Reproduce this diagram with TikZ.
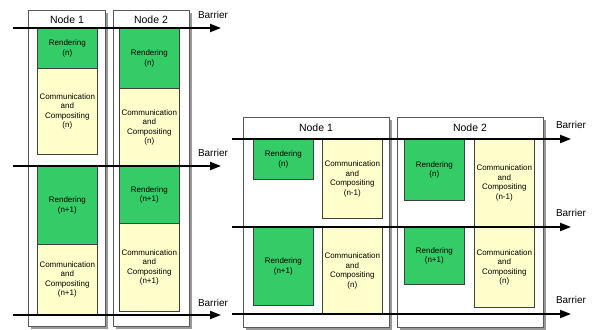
\documentclass[tikz,border=0pt]{standalone}
\usepackage{fontspec}
\setmainfont{Liberation Sans}
\usetikzlibrary{arrows.meta,positioning,shadows}
\definecolor{rendgreen}{RGB}{51,204,102}
\definecolor{compyellow}{RGB}{255,255,204}

\begin{document}
\begin{tikzpicture}[
  x=1pt, y=-1pt,
  nodebox/.style={draw=black!65, line width=0.8pt, fill=white, anchor=north west, inner sep=0pt,
    drop shadow={shadow xshift=2.5pt, shadow yshift=-2.5pt, fill=black!40, opacity=1}},
  title/.style={font=\fontsize{10.5}{12}\selectfont, anchor=center},
  task/.style={draw=black!75, line width=0.6pt, anchor=north west, inner sep=0pt, minimum width=60pt,
    align=center, font=\fontsize{8}{9.5}\selectfont,
    drop shadow={shadow xshift=0.8pt, shadow yshift=-0.8pt, fill=black!50, opacity=1}},
  rend/.style={task, fill=rendgreen},
  comp/.style={task, fill=compyellow},
  barrier/.style={line width=2pt, -{Triangle[length=11pt,width=8pt]}},
  blabel/.style={font=\fontsize{10}{12}\selectfont}
]
\useasboundingbox (0,0) rectangle (593,329);

% serial pipeline
\node[nodebox, minimum width=77pt, minimum height=316pt] (ln1) at (28,10) {};
\node[nodebox, minimum width=76pt, minimum height=316pt] (ln2) at (113,10) {};
\node[title] (ln1t) at (67,20) {Node 1};
\node[title] (ln2t) at (151,20) {Node 2};

\node[rend, minimum height=40pt] (lr1a) at (37,28) {Rendering\\(n)};
\node[comp, minimum height=86pt] (lc1a) at (37,68) {Communication\\and\\Compositing\\(n)};
\node[rend, minimum height=78pt] (lr1b) at (37,166) {Rendering\\(n+1)};
\node[comp, minimum height=70pt] (lc1b) at (37,244) {Communication\\and\\Compositing\\(n+1)};

\node[rend, minimum height=60pt] (lr2a) at (119,28) {Rendering\\(n)};
\node[comp, minimum height=78pt] (lc2a) at (119,88) {Communication\\and\\Compositing\\(n)};
\node[rend, minimum height=57pt] (lr2b) at (119,166) {Rendering\\(n+1)};
\node[comp, minimum height=88pt] (lc2b) at (119,223) {Communication\\and\\Compositing\\(n+1)};

\coordinate (lb1s) at (13,28);   \coordinate (lb1e) at (221,28);
\coordinate (lb2s) at (13,166);  \coordinate (lb2e) at (221,166);
\coordinate (lb3s) at (13,315);  \coordinate (lb3e) at (221,315);
\draw[barrier] (lb1s) -- (lb1e);
\draw[barrier] (lb2s) -- (lb2e);
\draw[barrier] (lb3s) -- (lb3e);
\node[blabel] (lbl1) at (213,15) {Barrier};
\node[blabel] (lbl2) at (213,153) {Barrier};
\node[blabel] (lbl3) at (213,303) {Barrier};

% overlapped pipeline
\node[nodebox, minimum width=146pt, minimum height=210pt] (rn1) at (243,117) {};
\node[nodebox, minimum width=146pt, minimum height=210pt] (rn2) at (397,117) {};
\node[title] (rn1t) at (316,128) {Node 1};
\node[title] (rn2t) at (470,128) {Node 2};

\node[rend, minimum height=40pt] (rr1a) at (253,139) {Rendering\\(n)};
\node[comp, minimum height=79pt] (rc1a) at (322,139) {Communication\\and\\Compositing\\(n-1)};
\node[rend, minimum height=78pt] (rr1b) at (253,227) {Rendering\\(n+1)};
\node[comp, minimum height=87pt] (rc1b) at (322,227) {Communication\\and\\Compositing\\(n)};

\node[rend, minimum height=61pt] (rr2a) at (404,139) {Rendering\\(n)};
\node[comp, minimum height=87pt] (rc2a) at (474,139) {Communication\\and\\Compositing\\(n-1)};
\node[rend, minimum height=57pt] (rr2b) at (404,227) {Rendering\\(n+1)};
\node[comp, minimum height=80pt] (rc2b) at (474,227) {Communication\\and\\Compositing\\(n)};

\coordinate (rb1s) at (232,139);  \coordinate (rb1e) at (571,139);
\coordinate (rb2s) at (232,227);  \coordinate (rb2e) at (571,227);
\coordinate (rb3s) at (232,314);  \coordinate (rb3e) at (571,314);
\draw[barrier] (rb1s) -- (rb1e);
\draw[barrier] (rb2s) -- (rb2e);
\draw[barrier] (rb3s) -- (rb3e);
\node[blabel] (rbl1) at (571,125) {Barrier};
\node[blabel] (rbl2) at (571,213) {Barrier};
\node[blabel] (rbl3) at (571,300) {Barrier};
\end{tikzpicture}
\end{document}
